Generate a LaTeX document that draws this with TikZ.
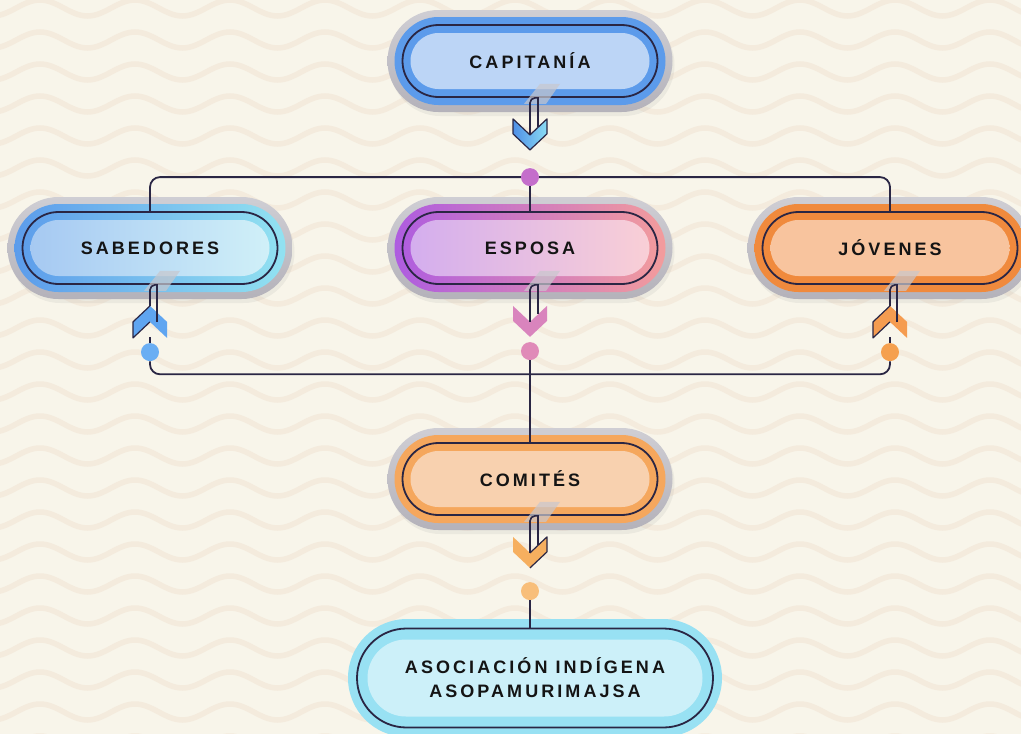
\documentclass[tikz,border=0pt]{standalone}
\usepackage{fontspec}
\newfontfamily\pillfont[LetterSpace=17]{Liberation Sans}
\usepackage{tikz}
\usetikzlibrary{
  positioning,
  calc,
  shapes.misc,
  shadows
}

\definecolor{paper}{HTML}{F8F5EA}
\definecolor{wavecol}{HTML}{F4EBDD}
\definecolor{ink}{HTML}{2A2644}
\definecolor{shellTop}{HTML}{CFCED4}
\definecolor{shellBot}{HTML}{B4B2BA}
\definecolor{hlgrey}{HTML}{C8C7CD}
\definecolor{capRing}{HTML}{5C9BEB}
\definecolor{capCore}{HTML}{BCD5F6}
\definecolor{capArrL}{HTML}{4F8FE6}
\definecolor{capArrR}{HTML}{8ADCF4}
\definecolor{capDot}{HTML}{C46ECB}
\definecolor{sabRingL}{HTML}{5C9CEB}
\definecolor{sabRingR}{HTML}{92E2F1}
\definecolor{sabCoreL}{HTML}{A6C9F2}
\definecolor{sabCoreR}{HTML}{D0F0F8}
\definecolor{sabArr}{HTML}{5FA5F1}
\definecolor{sabDot}{HTML}{6AAEF3}
\definecolor{espRingL}{HTML}{AE5CE0}
\definecolor{espRingR}{HTML}{F39C9C}
\definecolor{espCoreL}{HTML}{D4AEEE}
\definecolor{espCoreR}{HTML}{F9CFD6}
\definecolor{espArr}{HTML}{D984BD}
\definecolor{espDot}{HTML}{E08AB8}
\definecolor{jovRing}{HTML}{F08A3D}
\definecolor{jovCore}{HTML}{F8C49E}
\definecolor{jovArr}{HTML}{F59C50}
\definecolor{jovDot}{HTML}{F5A04F}
\definecolor{comRing}{HTML}{F5A75D}
\definecolor{comCore}{HTML}{F8D1AF}
\definecolor{comArr}{HTML}{F6AF5F}
\definecolor{comDot}{HTML}{F8BE7A}
\definecolor{asoRing}{HTML}{98E1F3}
\definecolor{asoCore}{HTML}{CCF0F9}

\tikzstyle{pill}=[rounded rectangle, inner sep=0pt]
\tikzstyle{shell}=[pill, minimum width=285pt, minimum height=102pt, top color=shellTop, bottom color=shellBot,
  drop shadow={opacity=0.10, shadow xshift=2pt, shadow yshift=-4pt}]
\tikzstyle{ring}=[pill, minimum width=271pt, minimum height=88pt]
\tikzstyle{core}=[pill, minimum width=239pt, minimum height=56pt]
\tikzstyle{outline}=[pill, draw=ink, line width=1.8pt, minimum width=255pt, minimum height=72pt,
  font=\pillfont\bfseries\fontsize{18}{24}\selectfont, text=black!92, align=center]
\tikzstyle{bus}=[draw=ink, line width=1.8pt]
\tikzstyle{stem}=[draw=ink, line width=1.6pt]
\tikzstyle{edge}=[draw=ink, line width=1.2pt, line join=round]
\tikzstyle{dot}=[circle, inner sep=0pt, minimum size=18pt]
\tikzstyle{wave}=[draw=wavecol, line width=5.5pt]
\tikzstyle{glare}=[fill=hlgrey, opacity=0.7]

\begin{document}
\begin{tikzpicture}[x=1pt, y=-1pt]
    \useasboundingbox (0,0) rectangle (1021,734);
    \clip (0,0) rectangle (1021,734);

    % fondo ondulado
    \fill[paper] (0,0) rectangle (1021,734);
    \foreach \r in {-1,...,23} {
        \pgfmathsetmacro\yw{8+32*\r}
        \draw[wave] (-55,\yw-8) \foreach \k in {0,...,11} {
            cos ++(23.75,8) sin ++(23.75,8) cos ++(23.75,-8) sin ++(23.75,-8) };
    }

    % cajas
    \foreach \nm/\x/\y/\ra/\rb/\ca/\cb/\txt in {
        cap/530/61/capRing/capRing/capCore/capCore/CAPITANÍA,
        sab/150/248/sabRingL/sabRingR/sabCoreL/sabCoreR/SABEDORES,
        esp/530/248/espRingL/espRingR/espCoreL/espCoreR/ESPOSA,
        jov/890/248/jovRing/jovRing/jovCore/jovCore/JÓVENES,
        com/530/479/comRing/comRing/comCore/comCore/COMITÉS} {
        \node[shell] at (\x,\y) {};
        \node[ring, left color=\ra, right color=\rb] at (\x,\y) {};
        \node[core, left color=\ca, right color=\cb] at (\x,\y) {};
        \node[outline] (\nm) at (\x,\y) {\txt};
    }

    % asociación
    \node[pill, minimum width=374pt, minimum height=118pt, fill=asoRing] at (535,678) {};
    \node[pill, minimum width=335pt, minimum height=77pt, fill=asoCore] at (535,678) {};
    \node[outline, minimum width=356pt, minimum height=99pt] (aso) at (535,678)
        {ASOCIACIÓN INDÍGENA\\ASOPAMURIMAJSA};

    % flechas hacia abajo
    \foreach \nm/\ca/\cb in {cap/capArrL/capArrR, esp/espArr/espArr, com/comArr/comArr} {
        \begin{scope}[shift={(\nm.south)}]
            \fill[glare] (-6,6) -- (16,6) -- (30,-14) -- (10,-14) -- cycle;
            \path[left color=\ca, right color=\cb]
                (-17,21) -- (0,37) -- (17,21) -- (17,36) -- (0,52) -- (-17,36) -- cycle;
            \draw[stem] (0,37) -- (0,5) arc[start angle=180, end angle=270, radius=5] -- (8,0) -- (8,29);
        \end{scope}
    }
    \begin{scope}[shift={(cap.south)}]
        \draw[edge] (-17,21) -- (0,37) -- (17,21) -- (17,36) -- (0,52) -- (-17,36) -- cycle;
    \end{scope}
    \begin{scope}[shift={(com.south)}]
        \draw[edge] (0,37) -- (17,21) -- (17,36) -- (0,52);
    \end{scope}

    % flechas hacia arriba
    \foreach \nm/\col in {sab/sabArr, jov/jovArr} {
        \begin{scope}[shift={(\nm.south)}]
            \fill[glare] (-6,6) -- (16,6) -- (30,-14) -- (10,-14) -- cycle;
            \fill[\col] (-17,37) -- (0,21) -- (17,37) -- (17,53) -- (0,37) -- (-17,53) -- cycle;
            \draw[edge] (0,37) -- (-17,53) -- (-17,37) -- (0,21);
            \draw[stem] (0,21) -- (0,5) arc[start angle=180, end angle=270, radius=5] -- (7,0) -- (7,37);
        \end{scope}
    }

    % puntos
    \node[dot, fill=capDot, below=70pt of cap.south] (topdot) {};
    \node[dot, fill=sabDot, below=58pt of sab.south] (sabdot) {};
    \node[dot, fill=espDot, below=57pt of esp.south] (espdot) {};
    \node[dot, fill=jovDot, below=58pt of jov.south] (jovdot) {};
    \node[dot, fill=comDot, below=66pt of com.south] (comdot) {};
    \coordinate[below=14pt of espdot.south] (midbus);

    % conexiones
    \draw[bus, rounded corners=10pt] (sab.north) |- (topdot) -| (jov.north);
    \draw[bus] (topdot) -- (esp.north);
    \draw[bus, rounded corners=10pt] (sabdot) |- (midbus) -| (jovdot);
    \draw[bus] (espdot) -- (com.north);
    \draw[bus] (sabdot) -- ++(0,-15);
    \draw[bus] (jovdot) -- ++(0,-15);
    \draw[bus] (comdot) -- (comdot |- aso.north);
\end{tikzpicture}
\end{document}
